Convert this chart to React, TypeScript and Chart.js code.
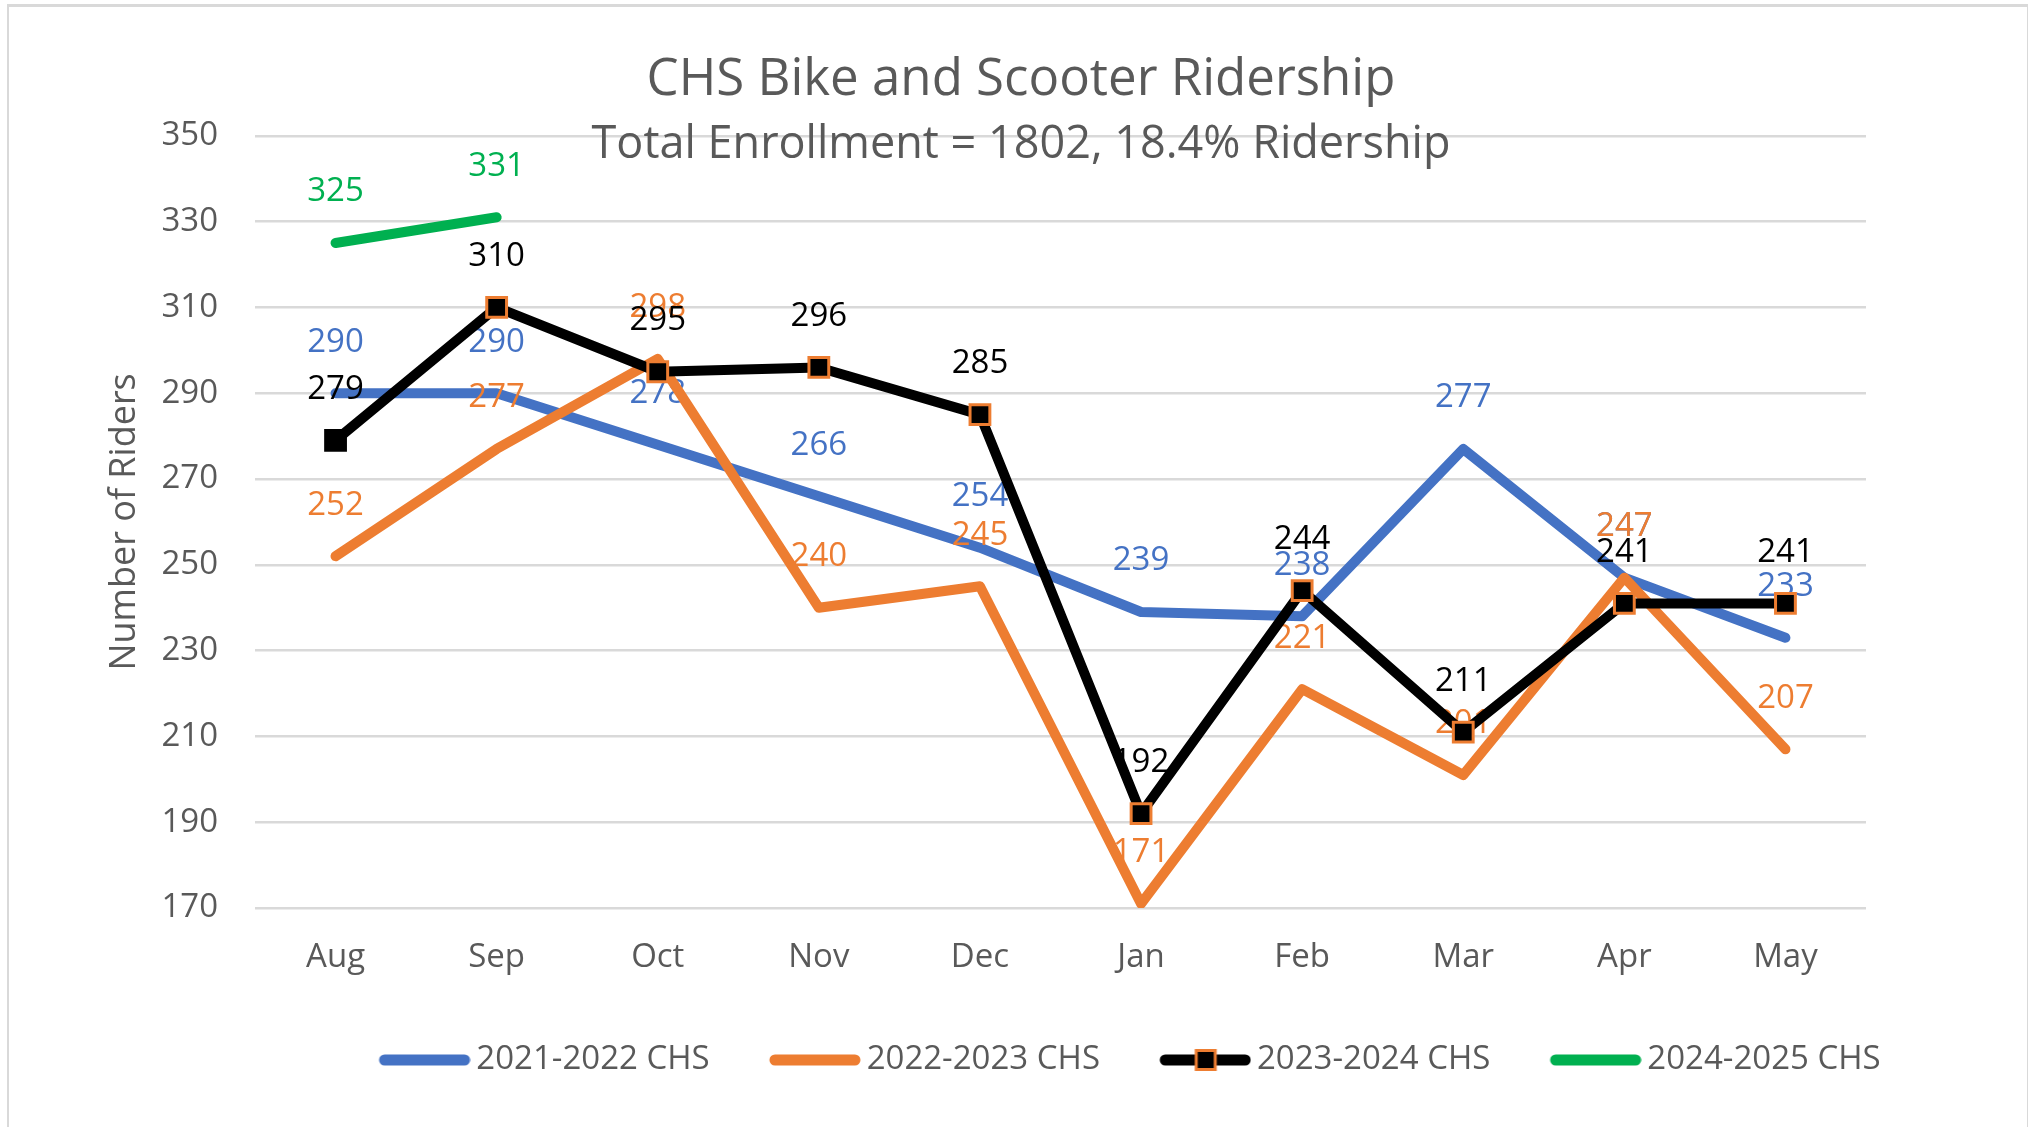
import { useEffect, useRef } from 'react';
import { Chart, registerables } from 'chart.js';

Chart.register(...registerables);

// ---------- data ----------
const TITLE = 'CHS Bike and Scooter Ridership';
const SUBTITLE = 'Total Enrollment = 1802, 18.4% Ridership';
const Y_TITLE = 'Number of Riders';
const months = ['Aug', 'Sep', 'Oct', 'Nov', 'Dec', 'Jan', 'Feb', 'Mar', 'Apr', 'May'];
const seriesNames = ['2021-2022 CHS', '2022-2023 CHS', '2023-2024 CHS', '2024-2025 CHS'];
const riders2122 = [290, 290, 278, 266, 254, 239, 238, 277, 247, 233];
const riders2223 = [252, 277, 298, 240, 245, 171, 221, 201, 247, 207];
const riders2324 = [279, 310, 295, 296, 285, 192, 244, 211, 241, 241];
const riders2425 = [325, 331, null, null, null, null, null, null, null, null];
const yMin = 170;
const yMax = 350;
const yStep = 20;

// ---------- styles ----------
const FONT = '"Open Sans", "Noto Sans", sans-serif';
const GRAY = '#595959';
const BLUE = '#4472C4';
const ORANGE = '#ED7D31';
const BLACK = '#000000';
const GREEN = '#00B050';

function makeIcon(color: string, marker: boolean): HTMLCanvasElement {
  const c = document.createElement('canvas');
  c.width = 152;
  c.height = 26;
  const g = c.getContext('2d')!;
  g.strokeStyle = color;
  g.lineWidth = 11;
  g.lineCap = 'round';
  g.beginPath();
  g.moveTo(66, 13);
  g.lineTo(146, 13);
  g.stroke();
  if (marker) {
    g.fillStyle = BLACK;
    g.fillRect(97, 3.5, 19, 19);
    g.strokeStyle = ORANGE;
    g.lineWidth = 3;
    g.strokeRect(97, 3.5, 19, 19);
  }
  return c;
}

const pointLabels = {
  id: 'pointLabels',
  afterDatasetDraw(chart: any, args: any) {
    const ctx = chart.ctx;
    const ds = chart.data.datasets[args.index];
    ctx.save();
    ctx.font = `33px ${FONT}`;
    ctx.fillStyle = ds.labelColor;
    ctx.textAlign = 'center';
    ctx.textBaseline = 'middle';
    args.meta.data.forEach((pt: any, i: number) => {
      const v = ds.data[i];
      if (v === null || v === undefined) return;
      ctx.fillText(String(v), pt.x, pt.y - 51);
    });
    ctx.restore();
  },
};

const boxShift = {
  id: 'boxShift',
  afterLayout(chart: any) {
    chart.boxes.forEach((b: any) => {
      const t = b.options && b.options.text;
      if (t === TITLE || t === SUBTITLE) {
        b.left += 88;
        b.right += 88;
      }
    });
    const lg = chart.legend;
    if (lg) {
      lg.left += 172;
      lg.right += 172;
    }
  },
};

export default function App() {
  const ref = useRef<HTMLCanvasElement>(null);

  useEffect(() => {
    document.body.style.margin = '0';
    document.body.style.overflow = 'hidden';
    const canvas = ref.current!;
    const icons = [
      makeIcon(BLUE, false),
      makeIcon(ORANGE, false),
      makeIcon(BLACK, true),
      makeIcon(GREEN, false),
    ];

    const lineBase = {
      borderWidth: 10,
      borderCapStyle: 'round',
      borderJoinStyle: 'round',
      tension: 0,
      pointRadius: 0,
      pointHoverRadius: 0,
    };

    const chart = new Chart(canvas, {
      type: 'line',
      data: {
        labels: months,
        datasets: [
          { ...lineBase, label: seriesNames[0], data: riders2122, borderColor: BLUE, backgroundColor: BLUE, labelColor: BLUE, order: 3 } as any,
          { ...lineBase, label: seriesNames[1], data: riders2223, borderColor: ORANGE, backgroundColor: ORANGE, labelColor: ORANGE, order: 2 } as any,
          {
            ...lineBase,
            label: seriesNames[2],
            data: riders2324,
            borderColor: BLACK,
            backgroundColor: BLACK,
            labelColor: BLACK,
            order: 1,
            pointStyle: 'rect',
            pointRadius: 14,
            pointHoverRadius: 14,
            pointBackgroundColor: BLACK,
            pointBorderColor: months.map((_, i) => (i === 0 ? BLACK : ORANGE)),
            pointBorderWidth: 3,
          } as any,
          { ...lineBase, label: seriesNames[3], data: riders2425, borderColor: GREEN, backgroundColor: GREEN, labelColor: GREEN, order: 0 } as any,
        ],
      },
      options: {
        responsive: false,
        maintainAspectRatio: false,
        animation: false,
        events: [],
        layout: { padding: { top: 3, left: 0, right: 162, bottom: 40.5 } },
        font: { family: FONT },
        scales: {
          x: {
            type: 'category',
            offset: true,
            grid: { display: false, drawTicks: false },
            border: { display: false },
            ticks: { color: GRAY, font: { size: 33, family: FONT }, padding: 30, maxRotation: 0, autoSkip: false },
            afterFit: (s: any) => {
              s.height = 125.5;
            },
          },
          y: {
            min: yMin,
            max: yMax,
            grid: { color: '#D9D9D9', lineWidth: 2.5, drawTicks: false },
            border: { display: false },
            ticks: { stepSize: yStep, color: GRAY, font: { size: 33, family: FONT }, padding: 37 },
            title: {
              display: true,
              text: Y_TITLE,
              color: GRAY,
              font: { size: 36, family: FONT },
              padding: { top: 103.5, bottom: 0 },
            },
            afterFit: (s: any) => {
              s.width = 255;
            },
          },
        },
        plugins: {
          tooltip: { enabled: false },
          title: {
            display: true,
            text: TITLE,
            color: GRAY,
            font: { size: 51, family: FONT, weight: 'normal' },
            padding: { top: 46.4, bottom: 0 },
          },
          subtitle: {
            display: true,
            text: SUBTITLE,
            color: GRAY,
            font: { size: 45, family: FONT, weight: 'normal' },
            padding: { top: 7.4, bottom: -36.2 },
          },
          legend: {
            position: 'bottom',
            labels: {
              usePointStyle: true,
              pointStyleWidth: 130.5,
              padding: 10,
              color: GRAY,
              font: { size: 33, family: FONT },
              sort: (a: any, b: any) => a.datasetIndex - b.datasetIndex,
              generateLabels: (ch: any) =>
                (Chart.defaults.plugins.legend.labels.generateLabels as any)(ch).map((it: any) => ({
                  ...it,
                  pointStyle: icons[it.datasetIndex],
                })),
            },
          },
        },
      } as any,
      plugins: [pointLabels, boxShift],
    });

    return () => chart.destroy();
  }, []);

  return (
    <div style={{ position: 'absolute', left: 0, top: 0, width: 2028, height: 1127, background: '#fff', overflow: 'hidden' }}>
      <canvas ref={ref} width={2028} height={1127} style={{ display: 'block', width: 2028, height: 1127 }} />
      <div
        style={{
          position: 'absolute',
          left: 7,
          top: 4,
          width: 2018,
          height: 1200,
          borderTop: '3px solid #d9d9d9',
          borderLeft: '2px solid #d9d9d9',
          borderRight: '2px solid #d9d9d9',
          pointerEvents: 'none',
        }}
      />
    </div>
  );
}
